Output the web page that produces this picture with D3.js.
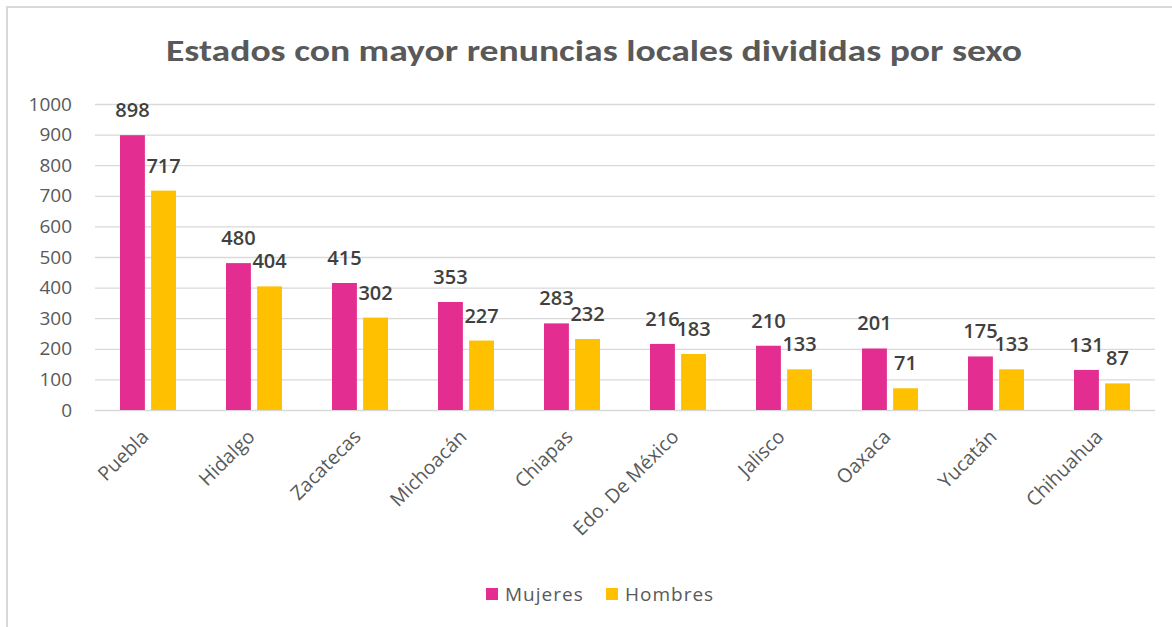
<!DOCTYPE html>
<html>
<head>
<meta charset="utf-8">
<script src="https://cdn.jsdelivr.net/npm/d3@7"></script>
<style>
  body { margin: 0; background: #fff; }
  svg { display: block; }
</style>
</head>
<body>
<div id="chart"></div>
<script>
// chart data
var estados = ["Puebla", "Hidalgo", "Zacatecas", "Michoacán", "Chiapas",
               "Edo. De México", "Jalisco", "Oaxaca", "Yucatán", "Chihuahua"];
var mujeres = [898, 480, 415, 353, 283, 216, 210, 201, 175, 131];
var hombres = [717, 404, 302, 227, 232, 183, 133, 71, 133, 87];
var series = ["Mujeres", "Hombres"];
var yTicks = [0, 100, 200, 300, 400, 500, 600, 700, 800, 900, 1000];

// sizes
var width = 1172, height = 627;
var plot = { left: 95, right: 1155, top: 104, bottom: 410 };
var titleFont = "Calibri, Carlito, 'Liberation Sans Narrow', sans-serif";
var font = "'Open Sans', 'Noto Sans', sans-serif";

var svg = d3.select("#chart").append("svg")
    .attr("width", width)
    .attr("height", height);

// frame (only top and left edges show)
svg.append("path")
    .attr("d", "M7,627 V7 H1172")
    .attr("fill", "none")
    .attr("stroke", "#d9d9d9")
    .attr("stroke-width", 2);

// title
svg.append("text")
    .attr("x", 594)
    .attr("y", 61)
    .attr("text-anchor", "middle")
    .attr("font-family", titleFont)
    .attr("font-size", "31px")
    .attr("font-weight", "bold")
    .attr("fill", "#595959")
    .attr("textLength", 856)
    .attr("lengthAdjust", "spacingAndGlyphs")
    .text("Estados con mayor renuncias locales divididas por sexo");

// scales
var xScale = d3.scaleBand()
    .domain(estados)
    .range([plot.left, plot.right]);

var xInner = d3.scaleBand()
    .domain(series)
    .range([25, 81])
    .paddingInner(0.2);

var yScale = d3.scaleLinear()
    .domain([0, 1000])
    .range([plot.bottom, plot.top]);

var color = d3.scaleOrdinal()
    .domain(series)
    .range(["#e32d91", "#ffc000"]);

// gridlines + y labels
var yAxis = d3.axisLeft(yScale)
    .tickValues(yTicks)
    .tickFormat(d3.format("d"))
    .tickSize(-(plot.right - plot.left))
    .tickPadding(23);

var yg = svg.append("g")
    .attr("transform", "translate(" + plot.left + ",0)")
    .call(yAxis);
yg.select(".domain").remove();
yg.selectAll("line").attr("stroke", "#d9d9d9").attr("stroke-width", 1.3);
yg.selectAll("text")
    .attr("font-family", font)
    .attr("font-size", "19px")
    .attr("fill", "#595959");

// x axis labels, rotated
var xAxis = d3.axisBottom(xScale).tickSize(0).tickPadding(0);
var xg = svg.append("g")
    .attr("transform", "translate(0," + plot.bottom + ")")
    .call(xAxis);
xg.select(".domain").remove();
xg.selectAll("text")
    .attr("font-family", font)
    .attr("font-size", "19.5px")
    .attr("fill", "#595959")
    .attr("text-anchor", "end")
    .attr("dy", null)
    .attr("y", 0)
    .attr("transform", "translate(2,28) rotate(-45)");

// bars
var rows = estados.map(function(e, i) {
    return { estado: e, values: [
        { key: "Mujeres", value: mujeres[i] },
        { key: "Hombres", value: hombres[i] } ] };
});

var groups = svg.selectAll("g.grupo")
    .data(rows)
    .enter().append("g")
    .attr("class", "grupo")
    .attr("transform", function(d) { return "translate(" + xScale(d.estado) + ",0)"; });

groups.selectAll("rect")
    .data(function(d) { return d.values; })
    .enter().append("rect")
    .attr("x", function(d) { return xInner(d.key); })
    .attr("y", function(d) { return yScale(d.value); })
    .attr("width", xInner.bandwidth())
    .attr("height", function(d) { return yScale(0) - yScale(d.value); })
    .attr("fill", function(d) { return color(d.key); });

// data labels
groups.selectAll("text.lbl")
    .data(function(d) { return d.values; })
    .enter().append("text")
    .attr("class", "lbl")
    .attr("x", function(d) { return xInner(d.key) + xInner.bandwidth() / 2; })
    .attr("y", function(d) { return yScale(d.value) - 18; })
    .attr("text-anchor", "middle")
    .attr("font-family", font)
    .attr("font-size", "20px")
    .attr("font-weight", 600)
    .attr("fill", "#404040")
    .text(function(d) { return d.value; });

// legend
var legend = svg.selectAll("g.legend")
    .data(series)
    .enter().append("g")
    .attr("class", "legend")
    .attr("transform", function(d, i) { return "translate(" + (486 + i * 120) + ",588)"; });

legend.append("rect")
    .attr("width", 12)
    .attr("height", 12)
    .attr("fill", color);

legend.append("text")
    .attr("x", 19)
    .attr("y", 13)
    .attr("font-family", font)
    .attr("font-size", "19px")
    .attr("letter-spacing", "1px")
    .attr("fill", "#595959")
    .text(function(d) { return d; });
</script>
</body>
</html>
